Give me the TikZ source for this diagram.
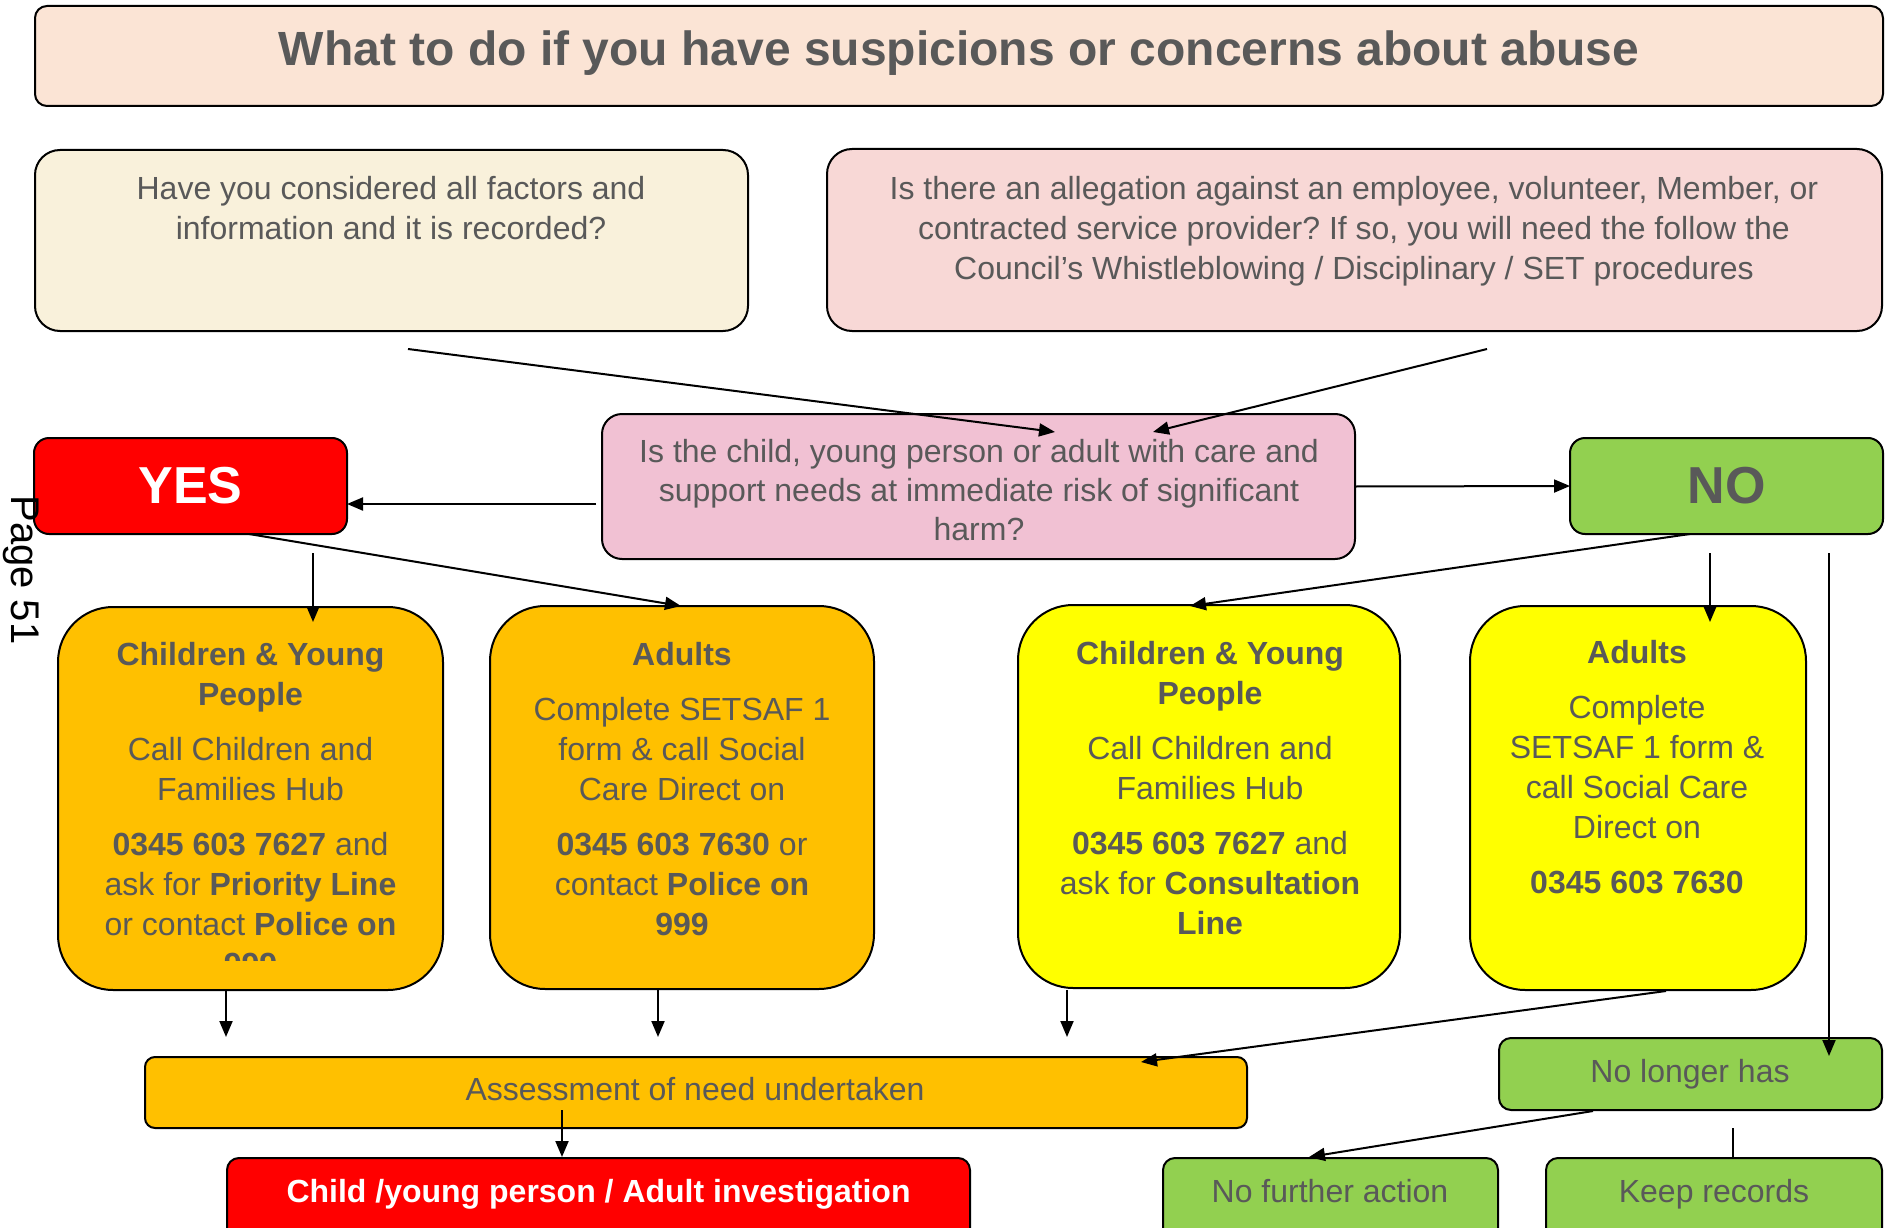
\documentclass[tikz,border=0pt]{standalone}
\usepackage{fontspec}
\setmainfont{Liberation Sans}
\usetikzlibrary{arrows.meta}
\frenchspacing
\definecolor{txt}{RGB}{89,89,89}
\definecolor{titlefill}{RGB}{251,228,213}
\definecolor{creamfill}{RGB}{249,241,219}
\definecolor{pinkfill}{RGB}{248,216,214}
\definecolor{qfill}{RGB}{241,193,211}
\definecolor{orangefill}{RGB}{255,192,0}
\definecolor{yellowfill}{RGB}{255,255,0}
\definecolor{greenfill}{RGB}{146,208,80}
\definecolor{redfill}{RGB}{255,0,0}
\begin{document}
\begin{tikzpicture}[x=1pt,y=-1pt,
  box/.style={draw=black, line width=2pt, inner sep=0pt, outer sep=0pt},
  arr/.style={line width=2pt, -{Triangle[length=16pt,width=13pt]}},
  plainln/.style={line width=1.6pt},
  body/.style={text=txt, font=\fontsize{32}{40}\selectfont\frenchspacing, align=center, inner sep=0pt},
]
\path[use as bounding box, clip] (0,0) rectangle (1885,1228);

% ---------- shapes ----------
\node[box, fill=titlefill, rounded corners=12pt, minimum width=1848pt, minimum height=100pt] (title) at (959,56) {};
\node[box, fill=creamfill, rounded corners=25pt, minimum width=713pt, minimum height=181pt] (tl) at (391.5,240.5) {};
\node[box, fill=pinkfill, rounded corners=25pt, minimum width=1055pt, minimum height=182pt] (tr) at (1354.5,240) {};
\node[box, fill=qfill, rounded corners=20pt, minimum width=753pt, minimum height=145pt] (q) at (978.5,486.5) {};
\node[box, fill=redfill, rounded corners=15pt, minimum width=313pt, minimum height=96pt] (yes) at (190.5,486) {};
\node[box, fill=greenfill, rounded corners=15pt, minimum width=313pt, minimum height=96pt] (no) at (1726.5,486) {};
\node[box, fill=orangefill, rounded corners=55pt, minimum width=385pt, minimum height=383pt] (b1) at (250.5,798.5) {};
\node[box, fill=orangefill, rounded corners=55pt, minimum width=384pt, minimum height=383pt] (b2) at (682,797.5) {};
\node[box, fill=yellowfill, rounded corners=55pt, minimum width=382pt, minimum height=383pt] (b3) at (1209,796.5) {};
\node[box, fill=yellowfill, rounded corners=55pt, minimum width=336pt, minimum height=384pt] (b4) at (1638,798) {};
\node[box, fill=orangefill, rounded corners=10pt, minimum width=1102pt, minimum height=71pt] (assess) at (696,1092.5) {};
\node[box, fill=redfill, rounded corners=12pt, minimum width=743pt, minimum height=92pt] (inv) at (598.5,1204) {};
\node[box, fill=greenfill, rounded corners=12pt, minimum width=383pt, minimum height=72pt] (nlh) at (1690.5,1074) {};
\node[box, fill=greenfill, rounded corners=12pt, minimum width=335pt, minimum height=92pt] (nfa) at (1330.5,1204) {};
\node[box, fill=greenfill, rounded corners=12pt, minimum width=336pt, minimum height=92pt] (kr) at (1714,1204) {};

% ---------- texts ----------
\node[text=txt, font=\fontsize{48}{56}\selectfont\bfseries, inner sep=0pt, anchor=base] (titletxt) at (959,66) {What to do if you have suspicions or concerns about abuse};
\node[body, anchor=north] (tltxt) at (391,176.5) {Have you considered all factors and\\information and it is recorded?};
\node[body, anchor=north] (trtxt) at (1354,176.5) {Is there an allegation against an employee, volunteer, Member, or\\contracted service provider? If so, you will need the follow the\\Council’s Whistleblowing / Disciplinary / SET procedures};
\node[body, anchor=north, font=\fontsize{32}{39}\selectfont\frenchspacing] (qtxt) at (979,439.5) {Is the child, young person or adult with care and\\support needs at immediate risk of significant\\harm?};
\node[text=white, font=\fontsize{52}{60}\selectfont\bfseries, inner sep=0pt, anchor=base] (yestxt) at (190.5,503) {YES};
\node[text=txt, font=\fontsize{52}{60}\selectfont\bfseries, inner sep=0pt, anchor=base] (notxt) at (1726.5,503) {NO};

\begin{scope}
\clip (40,600) rectangle (460,960);
\node[body, anchor=north] (b1txt) at (250.5,642.5) {\textbf{Children \& Young}\\\textbf{People}\\[15pt]Call Children and\\Families Hub\\[15pt]\textbf{0345 603 7627} and\\ask for \textbf{Priority Line}\\or contact \textbf{Police on}\\\textbf{999}};
\end{scope}
\node[body, anchor=north] (b2txt) at (682,642.5) {\textbf{Adults}\\[15pt]Complete SETSAF 1\\form \& call Social\\Care Direct on\\[15pt]\textbf{0345 603 7630} or\\contact \textbf{Police on}\\\textbf{999}};
\node[body, anchor=north] (b3txt) at (1210,641.5) {\textbf{Children \& Young}\\\textbf{People}\\[15pt]Call Children and\\Families Hub\\[15pt]\textbf{0345 603 7627} and\\ask for \textbf{Consultation}\\\textbf{Line}};
\node[body, anchor=north] (b4txt) at (1637,640.5) {\textbf{Adults}\\[15pt]Complete\\SETSAF 1 form \&\\call Social Care\\Direct on\\[15pt]\textbf{0345 603 7630}};

\node[body, anchor=base] (assesstxt) at (695,1100) {Assessment of need undertaken};
\node[text=white, font=\fontsize{32}{40}\selectfont\bfseries, inner sep=0pt, anchor=base] (invtxt) at (598.5,1202) {Child /young person / Adult investigation};
\node[body, anchor=base] (nlhtxt) at (1690,1082) {No longer has};
\node[body, anchor=base] (nfatxt) at (1330,1202) {No further action};
\node[body, anchor=base] (krtxt) at (1714,1202) {Keep records};

\node[font=\fontsize{40}{48}\selectfont, inner sep=0pt, anchor=base, rotate=-90] (pagetxt) at (12,570) {Page 51};

% ---------- connector ends ----------
\coordinate (s1) at (408,349);   \coordinate (q1in) at (1055,432);
\coordinate (s2) at (1487,349);  \coordinate (q2in) at (1153,432);
\coordinate (qL) at (596,504);
\coordinate (y1s) at (313,553);  \coordinate (b1in) at (313,622);
\coordinate (yb) at (249,534);   \coordinate (b2in) at (681,606);
\coordinate (nb) at (1690,534);  \coordinate (b3in) at (1190,606);
\coordinate (n4s) at (1710,553); \coordinate (b4in) at (1710,622);
\coordinate (n5s) at (1829,553); \coordinate (nlhin) at (1829,1056);
\coordinate (b1o) at (226,990);  \coordinate (a1in) at (226,1037);
\coordinate (b2o) at (658,990);  \coordinate (a2in) at (658,1037);
\coordinate (b3o) at (1067,990); \coordinate (a3in) at (1067,1037);
\coordinate (b4o) at (1666,991); \coordinate (a4in) at (1141,1062);
\coordinate (as) at (562,1110);  \coordinate (invin) at (562,1157);
\coordinate (nlho) at (1593,1111); \coordinate (nfain) at (1309,1157);
\coordinate (nlhk) at (1733,1128); \coordinate (krin) at (1733,1157);

% ---------- connectors ----------
\draw[arr] (s1) -- (q1in);
\draw[arr] (s2) -- (q2in);
\draw[arr] (qL) -- (qL -| yes.east);
\draw[arr] (q.east) -- (no.west);
\draw[arr] (y1s) -- (b1in);
\draw[arr] (yb) -- (b2in);
\draw[arr] (nb) -- (b3in);
\draw[arr] (n4s) -- (b4in);
\draw[arr] (n5s) -- (nlhin);
\draw[arr] (b1o) -- (a1in);
\draw[arr] (b2o) -- (a2in);
\draw[arr] (b3o) -- (a3in);
\draw[arr] (b4o) -- (a4in);
\draw[arr] (as) -- (invin);
\draw[arr] (nlho) -- (nfain);
\draw[plainln] (nlhk) -- (krin);
\end{tikzpicture}
\end{document}
